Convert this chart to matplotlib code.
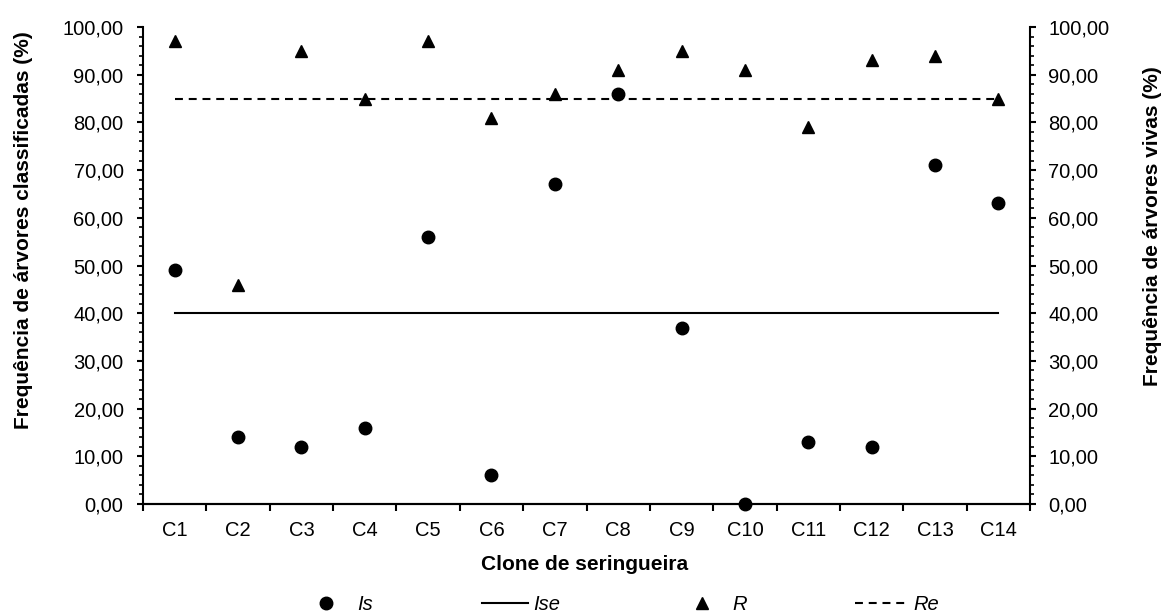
import numpy as np
import matplotlib.pyplot as plt
from matplotlib.ticker import MultipleLocator, FuncFormatter
from matplotlib.lines import Line2D

plt.rcParams["font.family"] = ["Liberation Sans", "DejaVu Sans"]

# --- dados ---
clones = ["C1", "C2", "C3", "C4", "C5", "C6", "C7", "C8", "C9", "C10", "C11", "C12", "C13", "C14"]
Is = [49, 14, 12, 16, 56, 6, 67, 86, 37, 0, 13, 12, 71, 63]
R = [97, 46, 95, 85, 97, 81, 86, 91, 95, 91, 79, 93, 94, 85]
Ise = 40.0
Re = 85.0

W, H = 1164, 613
fs = 14.5
fs_lab = 15
tracejado = (0, (3.8, 2.8))

fig = plt.figure(figsize=(W / 100, H / 100), dpi=100)
ax = fig.add_axes([143 / W, 1 - 504 / H, (1030 - 143) / W, (504 - 27) / H])
ax2 = ax.twinx()

x = np.arange(len(clones))

ax.plot(x, Is, "o", color="black", markersize=9, linestyle="none", zorder=3, clip_on=False)
ax.plot([x[0], x[-1]], [Ise, Ise], color="black", linewidth=1.5)
ax2.plot(x, R, "^", color="black", markersize=8, linestyle="none", zorder=3)
ax2.plot([x[0], x[-1]], [Re, Re], color="black", linewidth=1.5, linestyle=tracejado)

virgula = FuncFormatter(lambda v, p: f"{v:.2f}".replace(".", ","))
for a in (ax, ax2):
    a.set_ylim(0, 100)
    a.yaxis.set_major_locator(MultipleLocator(10))
    a.yaxis.set_minor_locator(MultipleLocator(2))
    a.yaxis.set_major_formatter(virgula)
    for s in a.spines.values():
        s.set_linewidth(1.5)
    a.spines["top"].set_visible(False)
    a.tick_params(axis="y", which="major", length=4, width=1.5, labelsize=fs, pad=10)
    a.tick_params(axis="y", which="minor", length=3, width=1.2)

ax.spines["right"].set_visible(False)
ax2.spines["left"].set_visible(False)
ax2.tick_params(axis="y", which="major", pad=9)

ax.set_xlim(-0.5, len(clones) - 0.5)
ax.set_xticks(x)
ax.set_xticklabels(clones, fontsize=fs)
ax.set_xticks(np.arange(len(clones) + 1) - 0.5, minor=True)
ax.tick_params(axis="x", which="major", length=0, pad=12)
ax.tick_params(axis="x", which="minor", length=5, width=1.5)

# títulos dos eixos
fig.text(585 / W, 1 - 565 / H, "Clone de seringueira", fontsize=fs_lab, fontweight="bold",
         ha="center", va="center")
fig.text(24 / W, 1 - 230 / H, "Frequência de árvores classificadas (%)", fontsize=fs_lab,
         fontweight="bold", rotation=90, ha="center", va="center")
fig.text(1152 / W, 1 - 226 / H, "Frequência de árvores vivas (%)", fontsize=fs_lab,
         fontweight="bold", rotation=90, ha="center", va="center")

# legenda: (handle, texto, início do handle px, comprimento px, espaço até o texto px)
em = fs * 100 / 72
entradas = [
    (Line2D([], [], marker="o", color="black", linestyle="none", markersize=9), "Is", 316, 20, 21),
    (Line2D([], [], color="black", linewidth=1.5), "Ise", 482, 46, 5),
    (Line2D([], [], marker="^", color="black", linestyle="none", markersize=8), "R", 692, 20, 20),
    (Line2D([], [], color="black", linewidth=1.5, linestyle=tracejado), "Re", 855, 55, 3),
]
for h, txt, px, comp, esp in entradas:
    fig.legend(handles=[h], labels=[txt], loc="center left",
               bbox_to_anchor=(px / W, 1 - 605 / H), frameon=False,
               borderpad=0, borderaxespad=0, handlelength=comp / em,
               handletextpad=esp / em, prop={"size": fs, "style": "italic"})

fig.savefig("out.png", dpi=100)
